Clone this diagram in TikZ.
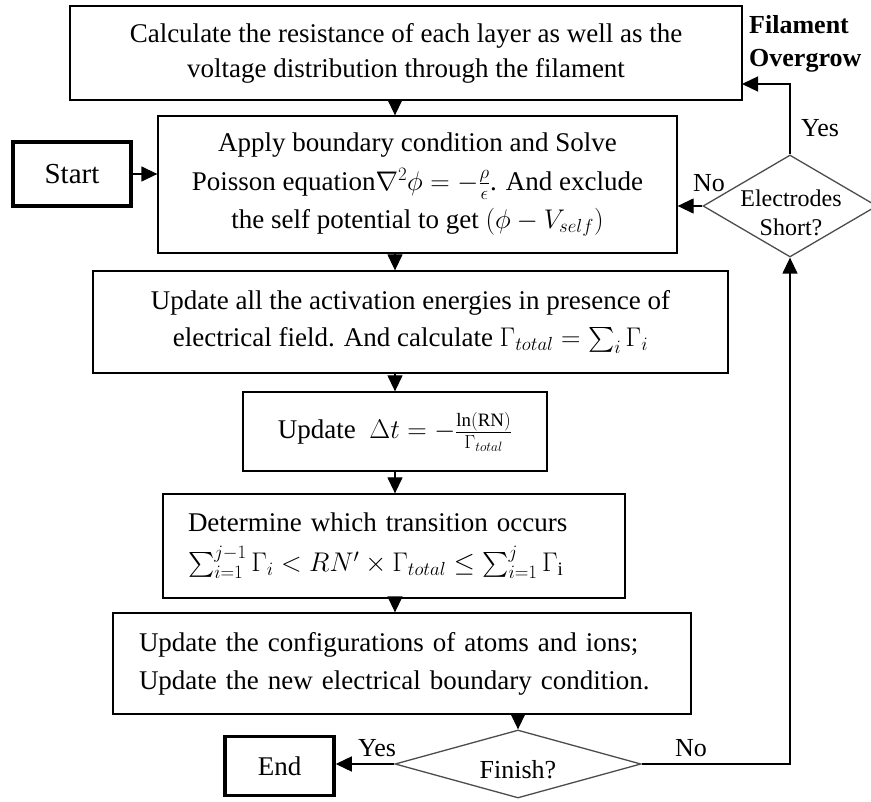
\RequirePackage{fix-cm}
\documentclass[tikz,border=0pt]{standalone}
\usepackage{amsmath}
\usepackage{fontspec}
\setmainfont{Liberation Serif}
\usetikzlibrary{shapes.geometric,arrows.meta}
\begin{document}
\begin{tikzpicture}[x=1pt,y=-1pt,
  box/.style={draw=black,line width=1.3pt,rectangle,inner sep=0pt,align=center},
  term/.style={draw=black,line width=3.5pt,rectangle,inner sep=0pt},
  dia/.style={draw=black!70,line width=1.3pt,diamond,inner sep=0pt},
  lbl/.style={inner sep=0pt,font=\fontsize{26}{30}\selectfont},
  arr/.style={draw=black,line width=1.3pt,-{Triangle[length=16pt,width=15pt]}}]
\useasboundingbox (0,0) rectangle (871,802);

\node[box,minimum width=672,minimum height=94,font=\fontsize{27}{35}\selectfont] (b1) at (406,53)
  {Calculate the resistance of each layer as well as the\\voltage distribution through the filament};
\node[box,minimum width=519,minimum height=137,font=\fontsize{27}{38.5}\selectfont] (b2) at (417.5,184.5)
  {Apply boundary condition and Solve\\Poisson equation$\nabla^2\phi = -\tfrac{\rho}{\epsilon}$. And exclude\\the self potential to get $(\phi - V_{self})$};
\node[term,minimum width=118,minimum height=64,font=\fontsize{29}{32}\selectfont] (start) at (72,174) {Start};
\node[dia,minimum width=174,minimum height=102] (dE) at (790,206) {};
\node[inner sep=0pt,align=center,font=\fontsize{24}{29}\selectfont] (dEt) at (791,213) {Electrodes\\Short?};
\node[box,minimum width=635,minimum height=102,font=\fontsize{27}{37}\selectfont] (b3) at (410.5,322)
  {Update all the activation energies in presence of\\electrical field. And calculate $\Gamma_{total} = \sum_i \Gamma_i$};
\node[box,minimum width=304,minimum height=79,font=\fontsize{27}{37}\selectfont] (b4) at (395,431.5)
  {Update \ $\Delta t = -\tfrac{\ln(\mathrm{RN})}{\Gamma_{total}}$};
\node[box,text width=412,inner xsep=25,align=left,minimum height=104,font=\fontsize{27}{40}\selectfont] (b5) at (394,546)
  {Determine which transition occurs\\$\sum_{i=1}^{j-1}\Gamma_i < RN' \times \Gamma_{total} \le \sum_{i=1}^{j}\Gamma_{\mathrm{i}}$};
\node[box,text width=526,inner xsep=26,align=left,minimum height=101,font=\fontsize{27}{38}\selectfont] (b6) at (402,663.5)
  {Update the configurations of atoms and ions;\\Update the new electrical boundary condition.};
\node[dia,minimum width=246,minimum height=68] (fin) at (518,764) {};
\node[inner sep=0pt,font=\fontsize{26}{30}\selectfont] (fint) at (518,770) {Finish?};
\node[term,minimum width=109,minimum height=59,font=\fontsize{27}{30}\selectfont] (end) at (279.5,766) {End};

\node[inner sep=0pt,anchor=west,align=left,font=\fontsize{26}{33}\selectfont\bfseries] (fo) at (749,44) {Filament\\Overgrow};
\node[lbl] (yes1) at (820,128) {Yes};
\node[lbl] (no1) at (709,183) {No};
\node[lbl] (yes2) at (377,748) {Yes};
\node[lbl] (no2) at (691,748) {No};

\coordinate (col) at (395,0);
\coordinate (yesin) at (742,84);

\draw[arr] (b1.south -| col) -- (b2.north -| col);
\draw[arr] (b2.south -| col) -- (b3.north -| col);
\draw[arr] (b3.south -| col) -- (b4.north -| col);
\draw[arr] (b4.south -| col) -- (b5.north -| col);
\draw[arr] (b5.south -| col) -- (b6.north -| col);
\draw[arr] (b6.south -| fin.north) -- (fin.north);
\draw[arr] (start.east) -- (start.east -| b2.west);
\draw[arr] (dE.west) -- (dE.west -| b2.east);
\draw[arr] (dE.north) |- (yesin);
\draw[arr] (fin.east) -| (dE.south);
\draw[arr] (fin.west) -- (fin.west -| end.east);
\end{tikzpicture}
\end{document}
